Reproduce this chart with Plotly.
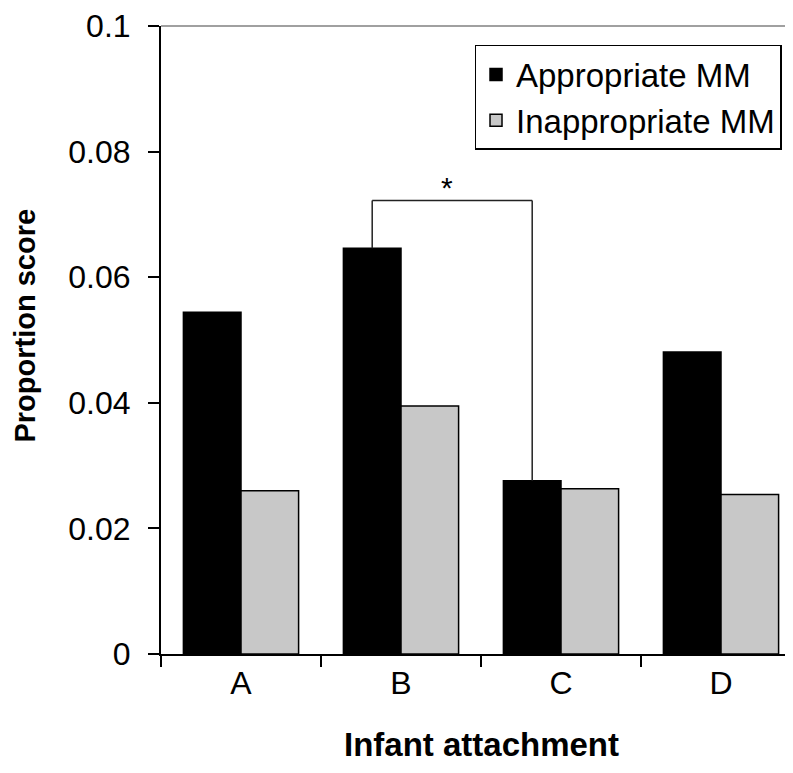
import plotly.graph_objects as go

categories = ["A", "B", "C", "D"]
appropriate = [0.0544, 0.0646, 0.0276, 0.0481]
inappropriate = [0.0260, 0.0395, 0.0263, 0.0254]
y_ticks = [0, 0.02, 0.04, 0.06, 0.08, 0.1]
y_tick_labels = ["0", "0.02", "0.04", "0.06", "0.08", "0.1"]
sig_pair = ("B", "C")
sig_label = "*"
bracket_level = 0.0722

FONT = "Liberation Sans, Arial, sans-serif"
BARGAP = 0.28

fig = go.Figure()
fig.add_trace(go.Bar(x=categories, y=appropriate, name="Appropriate MM",
                     marker=dict(color="#000000", line=dict(color="#000000", width=1.5))))
fig.add_trace(go.Bar(x=categories, y=inappropriate, name="Inappropriate MM",
                     marker=dict(color="#C8C8C8", line=dict(color="#000000", width=1.5))))

# significance bracket between the "Appropriate" bars of the pair
off = -(1 - BARGAP) / 4
i0 = categories.index(sig_pair[0])
i1 = categories.index(sig_pair[1])
x0 = i0 + off
x1 = i1 + off
lc = dict(color="#222222", width=1.5)
fig.add_shape(type="line", x0=x0, x1=x0, y0=appropriate[i0], y1=bracket_level, xref="x", yref="y", line=lc)
fig.add_shape(type="line", x0=x0, x1=x1, y0=bracket_level, y1=bracket_level, xref="x", yref="y", line=lc)
fig.add_shape(type="line", x0=x1, x1=x1, y0=bracket_level, y1=appropriate[i1], xref="x", yref="y", line=lc)
fig.add_annotation(x=(x0 + x1) / 2 - 0.03, y=bracket_level, text=sig_label, showarrow=False,
                   yanchor="middle", yshift=13, font=dict(size=30, color="black", family=FONT))

# top frame line of the plot area (light gray)
fig.add_shape(type="line", x0=0, x1=1, xref="paper", y0=1, y1=1, yref="paper",
              line=dict(color="#A0A0A0", width=2))

# axis titles
fig.add_annotation(x=1.5, xref="x", y=-0.1444, yref="paper", text="<b>Infant attachment</b>",
                   showarrow=False, xanchor="center", yanchor="middle",
                   font=dict(size=33, color="black", family=FONT))
fig.add_annotation(x=-0.2125, xref="paper", y=0.523, yref="paper", text="<b>Proportion score</b>",
                   showarrow=False, xanchor="center", yanchor="middle", textangle=-90,
                   font=dict(size=29, color="black", family=FONT))

fig.update_layout(
    width=793, height=773,
    margin=dict(l=153, r=0, t=16, b=127),
    paper_bgcolor="white", plot_bgcolor="white",
    barmode="group", bargap=BARGAP, bargroupgap=0,
    font=dict(family=FONT, size=32, color="black"),
    showlegend=True,
    legend=dict(x=0.7297, xanchor="center", y=0.9698, yanchor="top",
                bordercolor="black", borderwidth=1.5, bgcolor="white",
                font=dict(size=33, family=FONT, color="black")),
    xaxis=dict(type="category", categoryorder="array", categoryarray=categories,
               range=[-0.5, 3.5], tickson="boundaries", ticks="outside", ticklen=11, tickwidth=2,
               tickcolor="black", showline=True, linecolor="black", linewidth=2,
               showgrid=False, tickfont=dict(size=32, family=FONT), fixedrange=True),
    yaxis=dict(range=[0, 0.1], tickvals=y_ticks, ticktext=y_tick_labels,
               ticks="outside", ticklen=11, tickwidth=2, tickcolor="black",
               showline=True, linecolor="black", linewidth=2, showgrid=False, zeroline=False,
               tickfont=dict(size=32, family=FONT), ticklabelstandoff=11,
               ticklabeloverflow="allow"),
)

fig.write_html("out.html")
